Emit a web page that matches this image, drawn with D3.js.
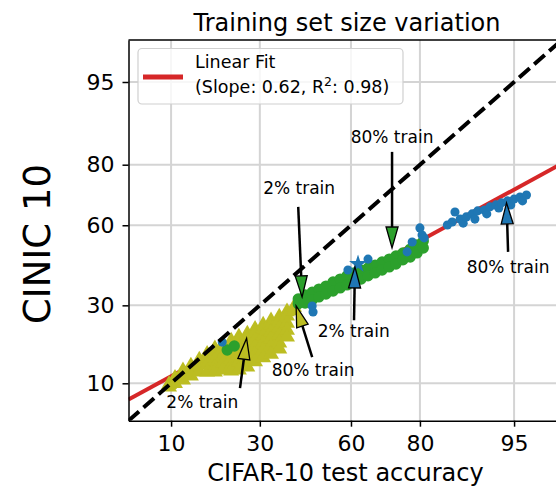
<!DOCTYPE html>
<html><head><meta charset="utf-8">
<script src="https://cdn.jsdelivr.net/npm/d3@7"></script>
<style>
html,body{margin:0;padding:0;background:#fff;}
svg{display:block;font-family:"DejaVu Sans",sans-serif;}
</style></head><body>
<svg id="chart" width="556" height="488"></svg>
<script>
// Axis ticks (accuracy in %), drawn on a probit (normal-quantile) scale
const tickValues = [10, 30, 60, 80, 95];
const tickLabels = ["10", "30", "60", "80", "95"];
const axisLimits = [5, 98];

// Linear fit in probit space
const fitSlope = 0.62;
const fitIntercept = -0.42;
const fitR2 = 0.98;

// [CIFAR-10 accuracy, CINIC-10 accuracy] per model
const blueSeries = [
  [47.2,27.8],[46.9,29.8],[59.0,42.8],[65.5,47.0],[76.8,49.8],[78.1,53.6],
  [80.0,59.0],[80.5,56.3],[81.0,55.2],[85.9,60.1],[86.8,61.2],[87.3,64.9],
  [88.2,62.3],[88.7,60.8],[89.2,63.1],[90.1,64.2],[90.5,62.3],[90.9,65.3],
  [91.8,65.6],[92.1,64.2],[92.5,66.7],[93.2,67.4],[93.5,66.3],[93.8,68.1],
  [94.4,68.8],[94.7,67.4],[95.0,69.4],[95.5,70.1],[95.7,68.8],[96.0,70.8],
  [19.9,18.9]
];
const blueStars = [[62.3,45.1]];

const greenSeries = [
  [42.2,32.2],[42.2,30.5],[44.5,33.6],[44.5,30.8],[46.9,34.6],[46.9,31.8],
  [49.2,35.7],[49.2,32.9],[51.6,36.8],[51.6,33.9],[54.0,38.3],[54.0,35.0],
  [56.4,39.4],[56.4,36.1],[58.7,40.6],[58.7,37.2],[61.0,41.7],[61.0,38.3],
  [63.3,42.8],[63.3,39.4],[65.5,43.6],[65.5,40.6],[67.7,44.7],[67.7,41.7],
  [69.8,45.9],[69.8,42.8],[71.9,47.0],[71.9,44.0],[73.8,48.2],[73.8,45.1],
  [75.7,49.4],[75.7,46.7],[77.6,50.9],[77.6,47.8],[79.3,52.5],[79.3,49.4],
  [80.8,54.0],[80.8,51.3],[21.1,16.9],[22.9,17.9]
];

const oliveSeries = [
  [9.7,9.8],[9.7,9.4],[10.6,10.9],[10.6,10.0],
  [11.9,12.3],[11.9,11.5],[11.9,10.6],[13.3,13.3],[13.3,12.5],[13.3,11.3],
  [14.9,14.6],[14.9,13.7],[14.9,12.1],[16.5,15.9],[16.5,15.1],[16.5,13.5],[16.5,12.1],
  [18.2,17.2],[18.2,16.2],[18.2,14.6],[18.2,13.1],[18.2,12.1],
  [20.1,18.2],[20.1,17.2],[20.1,15.5],[20.1,13.9],[20.1,12.5],
  [22.1,19.2],[22.1,18.2],[22.1,16.4],[22.1,14.8],[22.1,13.3],[22.1,12.3],
  [24.1,20.3],[24.1,19.2],[24.1,17.4],[24.1,15.7],[24.1,14.2],[24.1,12.5],
  [26.4,21.1],[26.4,20.0],[26.4,18.2],[26.4,16.4],[26.4,14.8],[26.4,13.1],
  [28.6,22.5],[28.6,21.4],[28.6,19.5],[28.6,17.7],[28.6,15.9],[28.6,14.2],
  [31.0,23.7],[31.0,22.5],[31.0,20.5],[31.0,18.7],[31.0,16.9],[31.0,15.1],
  [33.4,25.0],[33.4,23.7],[33.4,21.6],[33.4,19.8],[33.4,17.9],[33.4,15.9],
  [36.0,26.2],[36.0,25.0],[36.0,22.8],[36.0,20.8],[36.0,18.7],[36.0,17.2],
  [38.5,27.9],[38.5,26.5],[38.5,24.3],[38.5,22.2],[38.5,20.3],
  [40.8,29.4],[40.8,28.2],[42.1,30.8]
];

// Arrow annotations: tip, tail and label anchor in data units
const annotations = [
  {label:"2% train",  color:"#2ca02c", tip:[43.5,32.9], tail:[42.2,66.7], text:[42.5,71.1]},
  {label:"80% train", color:"#2ca02c", tip:[72.7,51.3], tail:[72.7,83.3], text:[72.7,85.4]},
  {label:"2% train",  color:"#1f77b4", tip:[61.3,44.0], tail:[61.0,25.2], text:[60.9,20.3]},
  {label:"80% train", color:"#1f77b4", tip:[94.3,68.1], tail:[94.45,49.8], text:[94.45,41.7]},
  {label:"2% train",  color:"#bcbd22", tip:[26.2,19.9], tail:[24.4,9.2], text:[15.5,6.4]},
  {label:"80% train", color:"#bcbd22", tip:[41.5,29.8], tail:[46.9,15.2], text:[47.2,11.3]}
];

const COLORS = {blue:"#1f77b4", green:"#2ca02c", olive:"#bcbd22", red:"#d62728"};

// Inverse standard normal CDF (Acklam's rational approximation)
function probit(p) {
  const a=[-3.969683028665376e+01,2.209460984245205e+02,-2.759285104469687e+02,1.383577518672690e+02,-3.066479806614716e+01,2.506628277459239e+00];
  const b=[-5.447609879822406e+01,1.615858368580409e+02,-1.556989798598866e+02,6.680131188771972e+01,-1.328068155288572e+01];
  const c=[-7.784894002430293e-03,-3.223964580411365e-01,-2.400758277161838e+00,-2.549732539343734e+00,4.374664141464968e+00,2.938163982698783e+00];
  const d=[7.784695709041462e-03,3.224671290700398e-01,2.445134137142996e+00,3.754408661907416e+00];
  const pl = 0.02425, ph = 1 - pl;
  let q, r;
  if (p < pl) { q = Math.sqrt(-2*Math.log(p)); return (((((c[0]*q+c[1])*q+c[2])*q+c[3])*q+c[4])*q+c[5])/((((d[0]*q+d[1])*q+d[2])*q+d[3])*q+1); }
  if (p <= ph) { q = p-0.5; r = q*q; return (((((a[0]*r+a[1])*r+a[2])*r+a[3])*r+a[4])*r+a[5])*q/(((((b[0]*r+b[1])*r+b[2])*r+b[3])*r+b[4])*r+1); }
  q = Math.sqrt(-2*Math.log(1-p));
  return -(((((c[0]*q+c[1])*q+c[2])*q+c[3])*q+c[4])*q+c[5])/((((d[0]*q+d[1])*q+d[2])*q+d[3])*q+1);
}
const pz = v => probit(v / 100);

const plot = {left:128.5, right:562, top:39.9, bottom:420.7};
const xs = d3.scaleLinear().domain(axisLimits.map(pz)).range([plot.left, plot.right]);
const ys = d3.scaleLinear().domain(axisLimits.map(pz)).range([plot.bottom, plot.top]);
const X = v => xs(pz(v));
const Y = v => ys(pz(v));

const svg = d3.select("#chart");

svg.append("defs").append("clipPath").attr("id", "plotClip")
  .append("rect").attr("x", plot.left).attr("y", plot.top)
  .attr("width", plot.right - plot.left).attr("height", plot.bottom - plot.top);

// Grid
const grid = svg.append("g").attr("stroke", "#d4d4d4").attr("stroke-width", 2);
tickValues.forEach(t => {
  grid.append("line").attr("x1", X(t)).attr("x2", X(t)).attr("y1", plot.top).attr("y2", plot.bottom);
  grid.append("line").attr("y1", Y(t)).attr("y2", Y(t)).attr("x1", plot.left).attr("x2", plot.right);
});

const body = svg.append("g").attr("clip-path", "url(#plotClip)");

// Fit line in probit space
const fx0 = xs.domain()[0], fx1 = xs.domain()[1];
body.append("line")
  .attr("x1", xs(fx0)).attr("y1", ys(fitSlope * fx0 + fitIntercept))
  .attr("x2", xs(fx1)).attr("y2", ys(fitSlope * fx1 + fitIntercept))
  .attr("stroke", COLORS.red).attr("stroke-width", 4);

// Scatter
function drawSeries(data, type, size, color) {
  body.append("g").selectAll("path").data(data).join("path")
    .attr("transform", d => `translate(${X(d[0])},${Y(d[1])})`)
    .attr("d", d3.symbol().type(type).size(size))
    .attr("fill", color);
}
drawSeries(oliveSeries, d3.symbolTriangle, 110, COLORS.olive);
drawSeries(greenSeries, d3.symbolCircle, 100, COLORS.green);
drawSeries(blueSeries, d3.symbolCircle, 65, COLORS.blue);
drawSeries(blueStars, d3.symbolStar, 100, COLORS.blue);

// Identity line
body.append("line")
  .attr("x1", X(axisLimits[0])).attr("y1", Y(axisLimits[0]))
  .attr("x2", X(axisLimits[1])).attr("y2", Y(axisLimits[1]))
  .attr("stroke", "#000").attr("stroke-width", 4).attr("stroke-dasharray", "14,6");

// Axes
const xAxis = d3.axisBottom(xs).tickValues(tickValues.map(pz))
  .tickFormat((d, i) => tickLabels[i]).tickSize(6).tickSizeOuter(0).tickPadding(9);
const yAxis = d3.axisLeft(ys).tickValues(tickValues.map(pz))
  .tickFormat((d, i) => tickLabels[i]).tickSize(6).tickSizeOuter(0).tickPadding(8);
const gx = svg.append("g").attr("transform", `translate(0,${plot.bottom})`).call(xAxis);
const gy = svg.append("g").attr("transform", `translate(${plot.left},0)`).call(yAxis);
[gx, gy].forEach(g => {
  g.selectAll("text").attr("font-size", 22).attr("font-family", "DejaVu Sans").attr("fill", "#000");
  g.selectAll("line").attr("stroke", "#000").attr("stroke-width", 1.5);
  g.select(".domain").attr("stroke", "#000").attr("stroke-width", 1.5);
});
svg.append("line").attr("x1", plot.left).attr("x2", plot.right)
  .attr("y1", plot.top).attr("y2", plot.top).attr("stroke", "#000").attr("stroke-width", 1.5);

// Annotations
const ann = svg.append("g");
const headLen = 21, headHalf = 6;
annotations.forEach(a => {
  const tx = X(a.tip[0]), ty = Y(a.tip[1]);
  const sx = X(a.tail[0]), sy = Y(a.tail[1]);
  const len = Math.hypot(tx - sx, ty - sy);
  const ux = (tx - sx) / len, uy = (ty - sy) / len;
  const bx = tx - ux * headLen, by = ty - uy * headLen;
  ann.append("line").attr("x1", sx).attr("y1", sy).attr("x2", bx).attr("y2", by)
    .attr("stroke", "#000").attr("stroke-width", 2.5);
  ann.append("path")
    .attr("d", `M${tx},${ty}L${bx - uy * headHalf},${by + ux * headHalf}L${bx + uy * headHalf},${by - ux * headHalf}Z`)
    .attr("fill", a.color).attr("stroke", "#000").attr("stroke-width", 1.3).attr("stroke-linejoin", "miter");
  ann.append("text").attr("x", X(a.text[0])).attr("y", Y(a.text[1]))
    .attr("text-anchor", "middle").attr("font-size", 17).text(a.label);
});

// Legend
const lg = svg.append("g");
lg.append("rect").attr("x", 138).attr("y", 48.5).attr("width", 265).attr("height", 55.5)
  .attr("rx", 4).attr("fill", "#fff").attr("fill-opacity", 0.8)
  .attr("stroke", "#d0d0d0").attr("stroke-width", 1.2);
lg.append("line").attr("x1", 143).attr("x2", 183).attr("y1", 77).attr("y2", 77)
  .attr("stroke", COLORS.red).attr("stroke-width", 5);
lg.append("text").attr("x", 195).attr("y", 68).attr("font-size", 17.5).text("Linear Fit");
const l2 = lg.append("text").attr("x", 195).attr("y", 93).attr("font-size", 17.5);
l2.append("tspan").text(`(Slope: ${fitSlope.toFixed(2)}, R`);
l2.append("tspan").attr("dy", -7).attr("font-size", 12.5).text("2");
l2.append("tspan").attr("dy", 7).text(`: ${fitR2.toFixed(2)})`);

// Titles
svg.append("text").attr("x", 347).attr("y", 31).attr("text-anchor", "middle")
  .attr("font-size", 24).text("Training set size variation");
svg.append("text").attr("x", 345.5).attr("y", 481).attr("text-anchor", "middle")
  .attr("font-size", 24).text("CIFAR-10 test accuracy");
svg.append("text").attr("transform", "translate(50,244) rotate(-90)").attr("text-anchor", "middle")
  .attr("font-size", 37).text("CINIC 10");
</script>
</body></html>
